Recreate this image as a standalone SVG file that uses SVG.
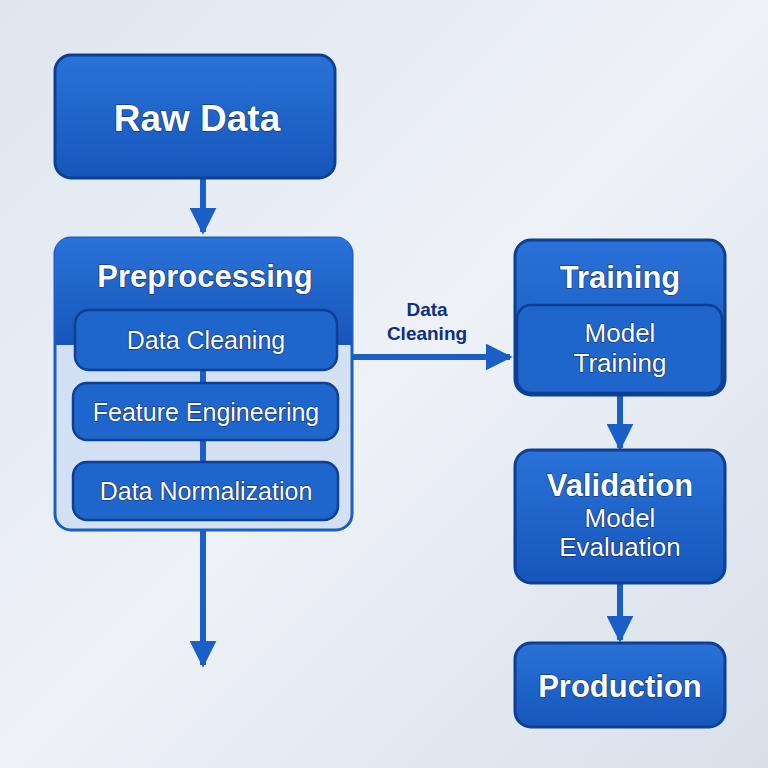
<svg xmlns="http://www.w3.org/2000/svg" width="768" height="768" viewBox="0 0 768 768">
<defs>
<linearGradient id="bg" x1="0" y1="0" x2="1" y2="1"><stop offset="0" stop-color="#dfe6ef"/><stop offset="0.5" stop-color="#eef2f7"/><stop offset="1" stop-color="#d9e0ea"/></linearGradient>
<linearGradient id="box" x1="0" y1="0" x2="0" y2="1"><stop offset="0" stop-color="#2a72d8"/><stop offset="1" stop-color="#1656bb"/></linearGradient>
<marker id="ah" viewBox="0 0 10 10" refX="9" refY="5" markerWidth="4.5" markerHeight="4.5" orient="auto" markerUnits="strokeWidth"><path d="M0,0 L10,5 L0,10 z" fill="#1a5fc8"/></marker>
</defs>
<style>
.b{fill:url(#box);stroke:#0d3f93;stroke-width:3}
.s{fill:#1f66cc;stroke:#0d3f93;stroke-width:2.5}
.t{font-family:"Liberation Sans",Arial,sans-serif;fill:#fff;text-anchor:middle;stroke:#0a2a66;stroke-width:1.2;paint-order:stroke}
.h{font-weight:bold}
.c{stroke:#1a5fc8;stroke-width:6;fill:none}
</style>
<rect width="768" height="768" fill="url(#bg)"/>
<g id="connectors">
<line class="c" x1="203" y1="178" x2="203" y2="232" marker-end="url(#ah)"/>
<line class="c" x1="203" y1="530" x2="203" y2="665" marker-end="url(#ah)"/>
<line class="c" x1="352" y1="357" x2="510" y2="357" marker-end="url(#ah)"/>
<line class="c" x1="620" y1="395" x2="620" y2="448" marker-end="url(#ah)"/>
<line class="c" x1="620" y1="583" x2="620" y2="640" marker-end="url(#ah)"/>
<text x="427" y="316" font-family="Liberation Sans,Arial,sans-serif" font-size="19" font-weight="bold" fill="#0d2f80" text-anchor="middle">Data</text>
<text x="427" y="340" font-family="Liberation Sans,Arial,sans-serif" font-size="19" font-weight="bold" fill="#0d2f80" text-anchor="middle">Cleaning</text>
</g>
<g id="raw-data"><rect class="b" x="55" y="55" width="280" height="123" rx="16"/><text class="t h" x="197" y="131" font-size="37">Raw Data</text></g>
<g id="preprocessing">
<rect x="55" y="238" width="297" height="292" rx="16" fill="#c9daf2" fill-opacity="0.7" stroke="#1a5fc8" stroke-width="3"/>
<path d="M71,238 H336 Q352,238 352,254 V345 H55 V254 Q55,238 71,238 Z" fill="url(#box)"/>
<line x1="203" y1="370" x2="203" y2="462" stroke="#1a5fc8" stroke-width="6"/>
<text class="t h" x="205" y="287" font-size="31">Preprocessing</text>
<g id="data-cleaning"><rect class="s" x="75" y="310" width="262" height="60" rx="14"/><text class="t" x="206" y="349" font-size="25">Data Cleaning</text></g>
<g id="feature-engineering"><rect class="s" x="73" y="383" width="265" height="57" rx="14"/><text class="t" x="206" y="421" font-size="25">Feature Engineering</text></g>
<g id="data-normalization"><rect class="s" x="73" y="462" width="265" height="58" rx="14"/><text class="t" x="206" y="500" font-size="25">Data Normalization</text></g>
</g>
<g id="training"><rect class="b" x="515" y="240" width="210" height="155" rx="16"/><text class="t h" x="620" y="288" font-size="31">Training</text>
<rect class="s" x="517" y="305" width="205" height="88" rx="14"/><text class="t" x="620" y="342" font-size="26">Model</text><text class="t" x="620" y="372" font-size="26">Training</text></g>
<g id="validation"><rect class="b" x="515" y="450" width="210" height="133" rx="16"/><text class="t h" x="620" y="496" font-size="31">Validation</text><text class="t" x="620" y="527" font-size="26">Model</text><text class="t" x="620" y="556" font-size="26">Evaluation</text></g>
<g id="production"><rect class="b" x="515" y="643" width="210" height="84" rx="16"/><text class="t h" x="620" y="697" font-size="31">Production</text></g>
</svg>
